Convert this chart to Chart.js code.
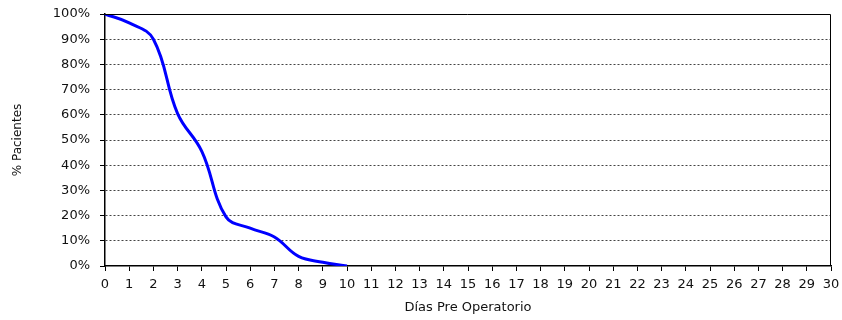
<!DOCTYPE html>
<html>
<head>
<meta charset="utf-8">
<script src="https://cdn.jsdelivr.net/npm/chart.js@4"></script>
<style>
  html, body { margin: 0; padding: 0; background: #fff; }
  #wrap { width: 842px; height: 320px; }
</style>
</head>
<body>
<div id="wrap"><canvas id="myChart" width="842" height="320"></canvas></div>
<script>
'use strict';

const days = [];
for (let d = 0; d <= 30; d++) days.push(String(d));

// % pacientes still waiting (days 0..10)
const pacientes = [100, 96.5, 90, 60.5, 45.5, 19.5, 15, 11.5, 3.8, 1.5, 0];

const yTicks = [0, 10, 20, 30, 40, 50, 60, 70, 80, 90, 100];

const font = { family: 'DejaVu Sans', size: 13 };

// box around plot area (top + right edges)
const frame = {
  id: 'frame',
  afterDraw(chart) {
    const a = chart.chartArea;
    const ctx = chart.ctx;
    ctx.save();
    ctx.strokeStyle = '#000';
    ctx.lineWidth = 1;
    ctx.beginPath();
    ctx.moveTo(a.left, a.top + 0.5);
    ctx.lineTo(a.right - 0.5, a.top + 0.5);
    ctx.lineTo(a.right - 0.5, a.bottom);
    ctx.stroke();
    ctx.restore();
  }
};

const data = {
  labels: days,
  datasets: [{
    label: '% Pacientes',
    data: pacientes,
    borderColor: '#0000FF',
    borderWidth: 3,
    pointRadius: 0,
    tension: 0.4,
    fill: false
  }]
};

const config = {
  type: 'line',
  data: data,
  plugins: [frame],
  options: {
    responsive: false,
    animation: false,
    layout: { padding: { top: 14, right: 11, left: 0, bottom: 0 } },
    plugins: { legend: { display: false }, tooltip: { enabled: false } },
    scales: {
      x: {
        afterFit(scale) {
          scale.height = 54;
          scale.paddingLeft = 0;
          scale.paddingRight = 0;
        },
        grid: { drawOnChartArea: false, drawTicks: true, tickLength: 5, tickColor: '#000' },
        border: { display: true, color: '#000', width: 1.5 },
        ticks: { color: '#111', font: font, autoSkip: false, maxRotation: 0, padding: 6 },
        title: { display: true, text: 'Días Pre Operatorio', color: '#111', font: font, padding: { top: 2, bottom: 5 } }
      },
      y: {
        min: 0,
        max: 100,
        afterFit(scale) {
          scale.width = 105;
          scale.paddingTop = 0;
          scale.paddingBottom = 0;
        },
        afterBuildTicks(scale) { scale.ticks = yTicks.map(v => ({ value: v })); },
        grid: {
          color: ctx => (ctx.tick && (ctx.tick.value === 0 || ctx.tick.value === 100)) ? 'rgba(0,0,0,0)' : '#444',
          lineWidth: 1,
          tickLength: 5,
          tickColor: '#000'
        },
        border: { display: true, color: '#000', width: 1.5, dash: [2, 2] },
        ticks: { color: '#111', font: font, padding: 10, callback: v => v + '%' },
        title: { display: true, text: '% Pacientes', color: '#111', font: { family: 'DejaVu Sans', size: 12 }, padding: { top: 11, bottom: 6 } }
      }
    }
  }
};

const myChart = new Chart(document.getElementById('myChart'), config);
</script>
</body>
</html>
